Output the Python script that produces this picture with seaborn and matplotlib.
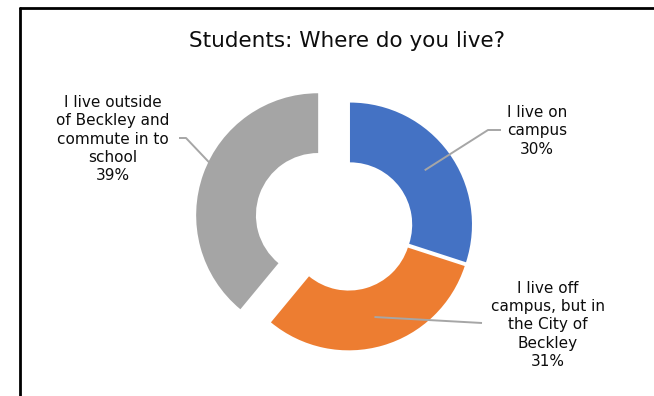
import numpy as np
import matplotlib
matplotlib.use("Agg")
import matplotlib.pyplot as plt
import seaborn as sns
from matplotlib.lines import Line2D

sns.set_theme(style="white")
plt.rcParams['font.family'] = ['DejaVu Sans']

# datos
categorias = ["I live on\ncampus", "I live off\ncampus, but in\nthe City of\nBeckley",
              "I live outside\nof Beckley and\ncommute in to\nschool"]
valores = [30, 31, 39]
colores = ["#4472C4", "#ED7D31", "#A5A5A5"]
separacion = [0.02, 0.02, 0.26]

W, H = 654, 396
cx, cy, R = 348, 226, 122  # centro y radio en pixeles


def px(x, y):
    # pixeles de la imagen -> unidades del grafico (radio = 1)
    return (x - cx) / R, (cy - y) / R


fig = plt.figure(figsize=(W / 100, H / 100), dpi=100)
ax = fig.add_axes([0, 0, 1, 1])
ax.axis('off')

wedges, _ = ax.pie(valores, colors=colores, startangle=90, counterclock=False,
                   explode=separacion, radius=1,
                   wedgeprops=dict(width=0.49, linewidth=0))
ax.set_aspect('auto')
ax.set_xlim(-cx / R, (W - cx) / R)
ax.set_ylim(-(H - cy) / R, cy / R)

# lineas guia y etiquetas
codos = [[(488, 130), (501, 130)], [(482, 323)], [(186, 138), (179, 138)]]
textos_pos = [(537, 131), (548, 325), (113, 139)]
radio_guia = [0.757, 0.757, 0.99]
angulo_ajuste = [0, 0, -6]

for w, cat, val, codo, tp, rg, aj in zip(wedges, categorias, valores, codos,
                                          textos_pos, radio_guia, angulo_ajuste):
    ang = np.deg2rad((w.theta1 + w.theta2) / 2 + aj)
    x0 = w.center[0] + rg * np.cos(ang)
    y0 = w.center[1] + rg * np.sin(ang)
    xs = [x0] + [px(*p)[0] for p in codo]
    ys = [y0] + [px(*p)[1] for p in codo]
    ax.plot(xs, ys, color="#A6A6A6", lw=1.4, solid_capstyle='butt')
    tx, ty = px(*tp)
    ax.text(tx, ty, f"{cat}\n{val}%", ha='center', va='center', fontsize=11,
            color="#0D0D0D", linespacing=1.26)

fig.text(347 / W, 1 - 41 / H, "Students: Where do you live?", ha='center', va='center',
         fontsize=15.5, color="#0D0D0D")

# borde del area del grafico
fig.add_artist(Line2D([20 / W, 1], [1 - 8 / H, 1 - 8 / H], transform=fig.transFigure,
                      color='black', lw=2))
fig.add_artist(Line2D([20 / W, 20 / W], [1 - 8 / H, 0], transform=fig.transFigure,
                      color='black', lw=2))

fig.savefig("out.png", dpi=100)
